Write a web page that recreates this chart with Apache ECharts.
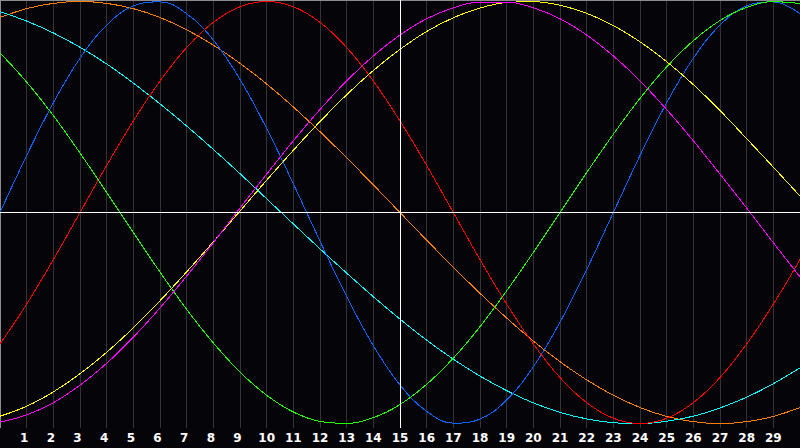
<!DOCTYPE html>
<html>
<head>
<meta charset="utf-8">
<script src="https://cdn.jsdelivr.net/npm/echarts@6/dist/echarts.min.js"></script>
<style>
  html, body { margin: 0; padding: 0; background: #050408; }
  #main { width: 800px; height: 448px; }
  #main path { shape-rendering: crispEdges; }
</style>
</head>
<body>
<div id="main"></div>
<script>
// x positions 0..30, labels shown for 1..29
var steps = [0,1,2,3,4,5,6,7,8,9,10,11,12,13,14,15,16,17,18,19,20,21,22,23,24,25,26,27,28,29,30];

var orangeVals = [0.924,0.966,0.991,1,0.991,0.966,0.924,0.866,0.793,0.707,0.609,0.5,0.383,0.259,0.131,0,
  -0.131,-0.259,-0.383,-0.5,-0.609,-0.707,-0.793,-0.866,-0.924,-0.966,-0.991,-1,-0.991,-0.966,-0.924];
var cyanVals = [0.951,0.907,0.851,0.783,0.704,0.613,0.515,0.410,0.299,0.184,0.065,-0.054,-0.172,-0.287,-0.399,-0.505,
  -0.605,-0.695,-0.775,-0.844,-0.902,-0.947,-0.978,-0.996,-1,-0.989,-0.965,-0.926,-0.875,-0.811,-0.736];
var blueVals = [0,0.270,0.520,0.731,0.888,0.979,0.998,0.942,0.817,0.631,0.398,0.136,-0.136,-0.398,-0.631,-0.817,
  -0.942,-0.998,-0.979,-0.888,-0.731,-0.520,-0.270,0,0.270,0.520,0.731,0.888,0.979,0.998,0.942];
var redVals = [-0.623,-0.434,-0.223,0,0.223,0.434,0.623,0.782,0.901,0.975,1,0.975,0.901,0.782,0.623,0.434,
  0.223,0,-0.223,-0.434,-0.623,-0.782,-0.901,-0.975,-1,-0.975,-0.901,-0.782,-0.623,-0.434,-0.223];
var greenVals = [0.756,0.618,0.459,0.282,0.095,-0.095,-0.282,-0.459,-0.618,-0.756,-0.866,-0.945,-0.990,-0.999,-0.972,-0.910,
  -0.814,-0.690,-0.541,-0.371,-0.189,0,0.189,0.371,0.541,0.690,0.814,0.910,0.972,0.999,0.990];
var yellowVals = [-0.965,-0.918,-0.850,-0.764,-0.662,-0.546,-0.418,-0.281,-0.139,0.007,0.153,0.295,0.431,0.558,0.673,0.773,
  0.858,0.923,0.969,0.995,0.999,0.982,0.944,0.886,0.809,0.715,0.606,0.483,0.350,0.215,0.078];
var magentaVals = [-0.993,-0.959,-0.901,-0.818,-0.714,-0.591,-0.452,-0.301,-0.143,0.021,0.182,0.340,0.488,0.624,0.742,0.841,
  0.918,0.970,0.997,0.997,0.970,0.918,0.841,0.742,0.624,0.488,0.340,0.182,0.021,-0.143,-0.305];

var lines = [
  { name: 'orange', color: '#ff8000', vals: orangeVals },
  { name: 'cyan', color: '#00ffff', vals: cyanVals },
  { name: 'blue', color: '#0a64ff', vals: blueVals },
  { name: 'red', color: '#ff0000', vals: redVals },
  { name: 'green', color: '#22ff00', vals: greenVals },
  { name: 'yellow', color: '#ffff00', vals: yellowVals },
  { name: 'magenta', color: '#ff00ff', vals: magentaVals }
];

var myChart = echarts.init(document.getElementById('main'), null, { renderer: 'svg' });

var series = lines.map(function (l) {
  return {
    name: l.name,
    type: 'line',
    data: steps.map(function (s, i) { return [s, l.vals[i]]; }),
    showSymbol: false,
    smooth: 0.4,
    silent: true,
    animation: false,
    lineStyle: { color: l.color, width: 1 },
    z: 3
  };
});

// white cross lines at the centre
series[0].markLine = {
  silent: true,
  symbol: 'none',
  label: { show: false },
  lineStyle: { color: '#ffffff', width: 1, type: 'solid' },
  data: [{ xAxis: 15 }, { yAxis: 0 }]
};

myChart.setOption({
  backgroundColor: '#050408',
  animation: false,
  grid: { left: 0, right: 0, top: 0, bottom: 20 },
  xAxis: [{
    type: 'value',
    min: 0,
    max: 30,
    interval: 1,
    axisLine: { show: true, lineStyle: { color: '#8c8c8c', width: 1 } },
    axisTick: { show: false },
    splitLine: { show: true, lineStyle: { color: '#333333', width: 1 } },
    axisLabel: {
      color: '#ffffff',
      fontFamily: 'DejaVu Sans',
      fontWeight: 'bold',
      fontSize: 12,
      margin: 4,
      showMinLabel: false,
      showMaxLabel: false,
      formatter: function (v) {
        if (v <= 0 || v >= 30) return '';
        return v < 10 ? '{s|' + v + '}' : String(v);
      },
      rich: {
        s: { color: '#ffffff', fontFamily: 'DejaVu Sans', fontWeight: 'bold', fontSize: 12, padding: [0, 5, 0, 0] }
      }
    }
  }, {
    type: 'value',
    position: 'top',
    min: 0,
    max: 30,
    axisLine: { show: true, lineStyle: { color: '#8c8c8c', width: 1 } },
    axisTick: { show: false },
    axisLabel: { show: false },
    splitLine: { show: false }
  }],
  yAxis: {
    type: 'value',
    min: -1.021,
    max: 1.007,
    axisLine: { show: true, lineStyle: { color: '#8c8c8c', width: 1 } },
    axisTick: { show: false },
    axisLabel: { show: false },
    splitLine: { show: false }
  },
  series: series
});
</script>
</body>
</html>
